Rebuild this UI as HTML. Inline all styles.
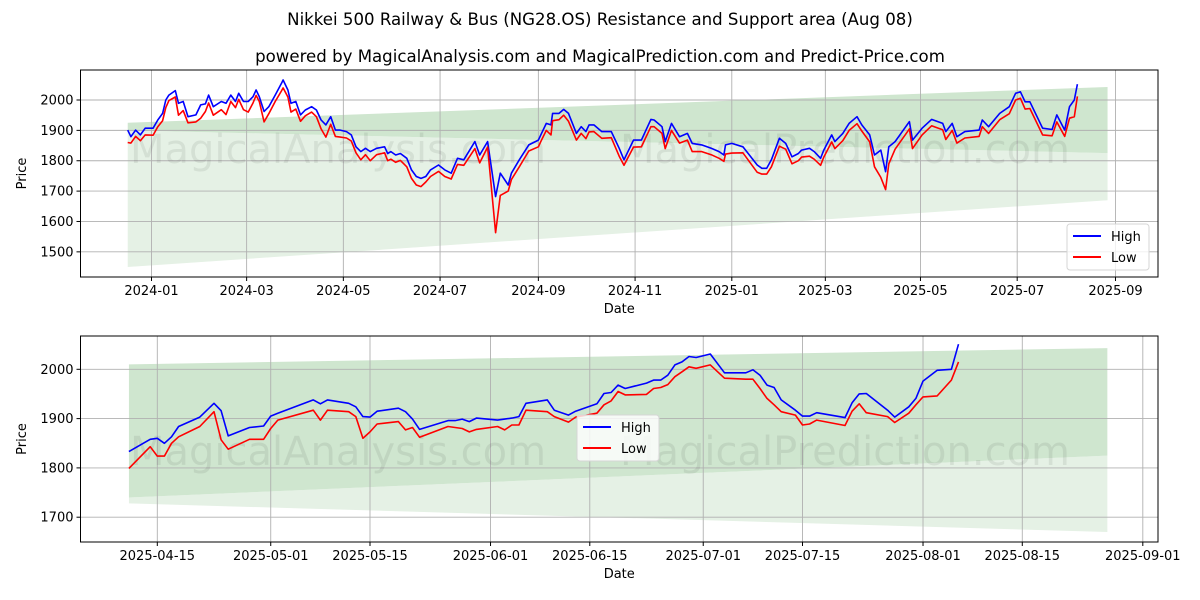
<!DOCTYPE html>
<html><head><meta charset="utf-8"><style>
html,body{margin:0;padding:0;background:#fff;}
svg{display:block;font-family:"DejaVu Sans","Liberation Sans",sans-serif;}
</style></head><body>
<svg id="chart" width="1200" height="600" viewBox="0 0 1200 600" xmlns="http://www.w3.org/2000/svg">
<rect x="0" y="0" width="1200" height="600" fill="#fff"/>
<text x="600" y="25" text-anchor="middle" font-size="16.6" fill="#000">Nikkei 500 Railway &amp; Bus (NG28.OS) Resistance and Support area (Aug 08)</text>
<text x="600" y="62" text-anchor="middle" font-size="16.6" fill="#000">powered by MagicalAnalysis.com and MagicalPrediction.com and Predict-Price.com</text>
<g id="top"></g>
<g id="bot"></g>
</svg>
<script>
// ---- Top chart data (day offsets from 2024-01-01) ----
const topDays = [-15,-13,-10,-7,-4,1,4,7,9,11,15,17,20,23,28,31,34,36,39,44,47,50,53,55,58,61,64,66,68,71,74,78,82,83,86,88,91,94,97,101,104,107,110,113,116,119,123,126,129,132,135,138,142,147,149,151,154,157,161,164,167,170,173,176,181,185,189,193,197,204,207,212,217,220,225,227,232,238,244,246,249,252,253,257,260,263,268,271,274,276,279,284,290,295,298,304,309,315,317,322,324,328,333,338,341,347,353,358,361,362,366,373,382,385,388,391,396,400,404,408,410,415,418,422,424,429,431,436,440,445,448,453,456,460,463,465,469,478,480,486,492,499,501,505,508,513,522,524,528,535,541,545,548,551,554,562,568,571,576,579,582,584];
const topHigh = [1901,1879,1901,1885,1907,1907,1934,1956,2000,2016,2031,1989,1995,1945,1951,1984,1987,2016,1978,1995,1989,2016,1995,2022,1995,1995,2011,2033,2011,1962,1978,2016,2055,2066,2033,1989,1995,1951,1967,1978,1967,1934,1918,1945,1901,1901,1896,1885,1846,1830,1841,1830,1841,1846,1824,1830,1819,1824,1808,1770,1748,1742,1748,1770,1786,1770,1759,1808,1803,1863,1819,1863,1682,1759,1720,1759,1803,1852,1868,1890,1923,1918,1956,1956,1969,1956,1890,1912,1896,1918,1918,1896,1896,1841,1803,1868,1868,1936,1934,1912,1863,1923,1879,1890,1857,1852,1841,1830,1819,1852,1857,1846,1786,1775,1775,1803,1874,1857,1813,1824,1835,1841,1830,1808,1835,1885,1863,1890,1923,1945,1918,1885,1819,1835,1764,1846,1863,1929,1868,1907,1936,1923,1896,1923,1879,1896,1901,1934,1912,1956,1978,2022,2027,1994,1994,1907,1903,1951,1901,1978,2000,2052];
const topLow = [1860,1858,1880,1866,1885,1884,1912,1932,1975,1998,2010,1950,1965,1925,1928,1940,1962,1990,1950,1968,1952,1995,1975,2002,1968,1960,1990,2015,1995,1928,1955,1995,2030,2040,2010,1960,1970,1930,1948,1960,1945,1905,1878,1920,1880,1878,1875,1865,1826,1803,1820,1800,1820,1826,1800,1805,1795,1801,1780,1742,1720,1715,1730,1748,1765,1748,1740,1788,1785,1840,1793,1845,1563,1686,1700,1738,1780,1832,1846,1868,1900,1885,1932,1935,1950,1930,1868,1890,1873,1895,1896,1874,1876,1815,1785,1845,1846,1912,1912,1890,1840,1900,1858,1868,1830,1830,1820,1808,1798,1822,1825,1826,1762,1756,1756,1780,1848,1838,1790,1800,1812,1815,1805,1785,1812,1862,1840,1866,1900,1922,1898,1862,1780,1745,1705,1790,1838,1905,1840,1885,1915,1902,1870,1900,1858,1875,1880,1912,1890,1935,1955,2000,2006,1970,1972,1885,1882,1928,1880,1940,1945,2012];
const topTicksY = [1500,1600,1700,1800,1900,2000];
const topTickDays = [0,60,121,182,244,305,366,425,485,546,608];
const topTickLabels = ["2024-01","2024-03","2024-05","2024-07","2024-09","2024-11","2025-01","2025-03","2025-05","2025-07","2025-09"];
const topBandDays = [-15,603];
const topResTop = [1925,2043];
const topResBot = [1900,1825];
const topSupBot = [1450,1670];

// ---- Bottom chart data (day offsets from 2025-04-15) ----
const botDays = [-4,-1,0,1,2,3,6,8,9,10,13,15,16,17,22,23,24,27,28,29,30,31,34,35,36,37,41,42,43,44,45,48,49,50,51,52,55,56,58,59,62,63,64,65,66,69,70,71,72,73,74,75,76,78,80,83,84,85,86,87,88,90,91,92,93,97,98,99,100,103,104,106,107,108,110,112,113];
const botHigh = [1833,1858,1860,1850,1863,1884,1903,1931,1916,1865,1882,1885,1905,1911,1938,1930,1938,1931,1924,1904,1903,1915,1921,1914,1899,1878,1896,1896,1899,1894,1901,1897,1899,1901,1904,1931,1938,1917,1907,1915,1930,1951,1953,1968,1961,1972,1978,1978,1988,2009,2015,2026,2024,2031,1993,1993,1999,1988,1968,1963,1938,1917,1905,1905,1912,1902,1932,1950,1951,1917,1903,1924,1941,1976,1998,2000,2051];
const botLow = [1799,1843,1824,1824,1850,1863,1884,1914,1857,1838,1858,1858,1880,1897,1917,1897,1917,1914,1904,1860,1873,1889,1894,1877,1882,1862,1884,1882,1880,1873,1878,1884,1877,1887,1887,1917,1914,1904,1893,1903,1911,1928,1936,1955,1948,1949,1961,1963,1969,1985,1995,2005,2002,2009,1982,1980,1980,1961,1941,1928,1914,1907,1887,1889,1897,1886,1915,1930,1912,1904,1892,1911,1928,1944,1946,1978,2015];
const botTicksY = [1700,1800,1900,2000];
const botTickDays = [0,16,30,47,61,77,91,108,122,139];
const botTickLabels = ["2025-04-15","2025-05-01","2025-05-15","2025-06-01","2025-06-15","2025-07-01","2025-07-15","2025-08-01","2025-08-15","2025-09-01"];
const botBandDays = [-4,134];
const botResTop = [2010,2043];
const botResBot = [1740,1825];
const botSupBot = [1728,1670];

const NS = "http://www.w3.org/2000/svg";
function mk(parent, tag, attrs, txt){
  const e = document.createElementNS(NS, tag);
  for (const k in attrs) e.setAttribute(k, attrs[k]);
  if (txt !== undefined) e.textContent = txt;
  parent.appendChild(e);
  return e;
}

function drawPanel(g, cfg){
  const L=80.5, R=1158, T=cfg.top, B=cfg.bottom;
  const xs = d => cfg.x0 + d*cfg.xk;
  const ys = v => cfg.y2000 + (2000 - v)*cfg.yk;
  const clipId = cfg.id + "-clip";
  const defs = mk(g, "defs", {});
  const cp = mk(defs, "clipPath", {id: clipId});
  mk(cp, "rect", {x:L, y:T, width:R-L, height:B-T});
  const plot = mk(g, "g", {"clip-path":"url(#"+clipId+")"});
  const bx0 = xs(cfg.bandDays[0]), bx1 = xs(cfg.bandDays[1]);
  const sup = mk(plot, "polygon", {points:
    bx0+","+ys(cfg.resBot[0])+" "+bx1+","+ys(cfg.resBot[1])+" "+bx1+","+ys(cfg.supBot[1])+" "+bx0+","+ys(cfg.supBot[0]),
    fill:"#e5f1e5"});
  
  
  const res = mk(plot, "polygon", {points:
    bx0+","+ys(cfg.resTop[0])+" "+bx1+","+ys(cfg.resTop[1])+" "+bx1+","+ys(cfg.resBot[1])+" "+bx0+","+ys(cfg.resBot[0]),
    fill:"#cfe6cf"});
  
  
  cfg.tickDays.forEach((d,i)=>{
    const x = xs(d);
    const gl = mk(plot, "line", {x1:x, x2:x, y1:T, y2:B, stroke:"#b0b0b0", "stroke-width":0.9});
    
    
  });
  cfg.ticksY.forEach(v=>{
    const y = ys(v);
    const gl = mk(plot, "line", {x1:L, x2:R, y1:y, y2:y, stroke:"#b0b0b0", "stroke-width":0.9});
    
    
  });
  cfg.wmY.forEach(wy=>{
    const w1 = mk(plot, "text", {x:130, y:wy, "font-size":40, fill:"#000", "fill-opacity":0.07}, "MagicalAnalysis.com");
    
    
    const w2 = mk(plot, "text", {x:620, y:wy, "font-size":40, fill:"#000", "fill-opacity":0.07}, "MagicalPrediction.com");
    
    
  });
  const ptsH = cfg.days.map((d,i)=>xs(d).toFixed(1)+","+ys(cfg.high[i]).toFixed(1)).join(" ");
  const ptsL = cfg.days.map((d,i)=>xs(d).toFixed(1)+","+ys(cfg.low[i]).toFixed(1)).join(" ");
  const hl = mk(plot, "polyline", {points:ptsH, fill:"none", stroke:"#0000ff", "stroke-width":1.6, "stroke-linejoin":"round"});
  
  
  const ll = mk(plot, "polyline", {points:ptsL, fill:"none", stroke:"#ff0000", "stroke-width":1.6, "stroke-linejoin":"round"});
  
  
  const fr = mk(g, "rect", {x:L, y:T, width:R-L, height:B-T, fill:"none", stroke:"#000", "stroke-width":1});
  
  
  cfg.tickDays.forEach((d,i)=>{
    const x = xs(d);
    mk(g, "line", {x1:x, x2:x, y1:B, y2:B+4, stroke:"#000"});
    const t = mk(g, "text", {x:x, y:B+18, "text-anchor":"middle", "font-size":13, fill:"#000"}, cfg.tickLabels[i]);
    
    
  });
  cfg.ticksY.forEach(v=>{
    const y = ys(v);
    mk(g, "line", {x1:L-4, x2:L, y1:y, y2:y, stroke:"#000"});
    const t = mk(g, "text", {x:L-7, y:y+4.5, "text-anchor":"end", "font-size":13, fill:"#000"}, String(v));
    
    
  });
  const xt = mk(g, "text", {x:(L+R)/2, y:B+36, "text-anchor":"middle", "font-size":13, fill:"#000"}, "Date");
  
  
  const cy = (T+B)/2;
  const yt = mk(g, "text", {x:26, y:cy, "text-anchor":"middle", "font-size":13, fill:"#000", transform:"rotate(-90 26 "+cy+")"}, "Price");
  
  
  const lg = mk(g, "g", {});
  
  
  const lx = cfg.legX, ly = cfg.legY;
  mk(lg, "rect", {x:lx, y:ly, width:82, height:46, rx:3, fill:"#fff", "fill-opacity":0.8, stroke:"#d6d6d6"});
  mk(lg, "line", {x1:lx+6, x2:lx+34, y1:ly+12, y2:ly+12, stroke:"#0000ff", "stroke-width":2});
  const lh = mk(lg, "text", {x:lx+44, y:ly+17, "font-size":13, fill:"#000"}, "High");
  
  
  mk(lg, "line", {x1:lx+6, x2:lx+34, y1:ly+33, y2:ly+33, stroke:"#ff0000", "stroke-width":2});
  const lo = mk(lg, "text", {x:lx+44, y:ly+38, "font-size":13, fill:"#000"}, "Low");
  
  
}

drawPanel(document.getElementById("top"), {id:"top", top:70, bottom:277, x0:151.5, xk:1.5855, y2000:100, yk:0.3037,
  days:topDays, high:topHigh, low:topLow, ticksY:topTicksY, tickDays:topTickDays, tickLabels:topTickLabels,
  bandDays:topBandDays, resTop:topResTop, resBot:topResBot, supBot:topSupBot, wmY:[163,313], legX:1067, legY:224});
drawPanel(document.getElementById("bot"), {id:"bot", top:336, bottom:542, x0:157.3, xk:7.09, y2000:369.3, yk:0.493,
  days:botDays, high:botHigh, low:botLow, ticksY:botTicksY, tickDays:botTickDays, tickLabels:botTickLabels,
  bandDays:botBandDays, resTop:botResTop, resBot:botResBot, supBot:botSupBot, wmY:[465], legX:577, legY:415});
</script>
</body></html>
